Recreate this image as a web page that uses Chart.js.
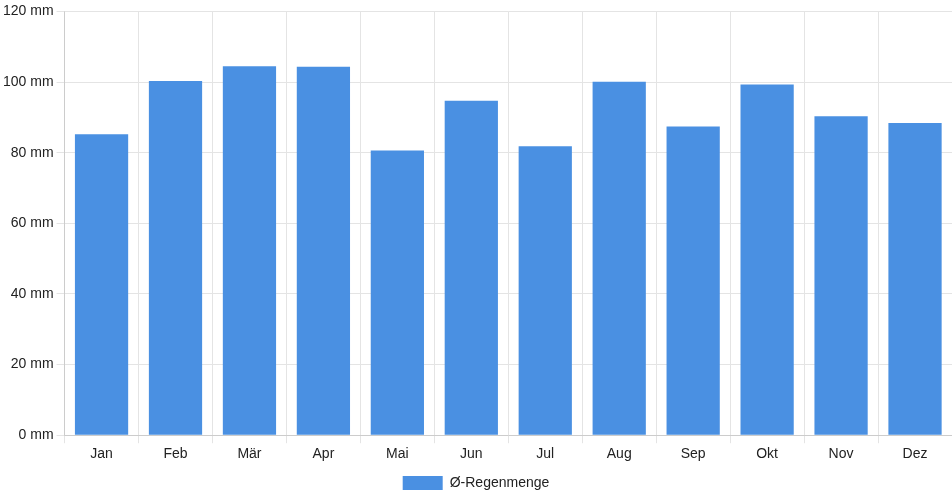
<!DOCTYPE html>
<html>
<head>
<meta charset="utf-8">
<script src="https://cdn.jsdelivr.net/npm/chart.js@4/dist/chart.umd.min.js"></script>
<style>
  html, body { margin: 0; padding: 0; background: #fff; }
  #wrap { width: 952px; height: 500px; }
</style>
</head>
<body>
<div id="wrap"><canvas id="rainChart"></canvas></div>
<script>
// Monatliche Regenmenge
const months = ["Jan", "Feb", "Mär", "Apr", "Mai", "Jun", "Jul", "Aug", "Sep", "Okt", "Nov", "Dez"];
const rainfall = [85.2, 100.3, 104.5, 104.3, 80.6, 94.7, 81.8, 100.1, 87.4, 99.3, 90.3, 88.4];
const yTicks = [0, 20, 40, 60, 80, 100, 120];

Chart.defaults.font.family = "'Liberation Sans', Arial, sans-serif";
Chart.defaults.font.size = 14;
Chart.defaults.color = "#222";

new Chart(document.getElementById("rainChart"), {
  type: "bar",
  data: {
    labels: months,
    datasets: [
      {
        label: "Ø-Regenmenge",
        data: rainfall,
        backgroundColor: "#4a90e2",
        borderColor: "#4a90e2",
        borderWidth: 0,
      },
    ],
  },
  options: {
    responsive: true,
    maintainAspectRatio: false,
    animation: false,
    layout: { padding: { top: 4, right: 0, bottom: 0, left: 0 } },
    plugins: {
      legend: {
        position: "bottom",
        labels: { boxWidth: 40, boxHeight: 14, color: "#222" },
      },
      tooltip: { enabled: false },
    },
    scales: {
      x: {
        grid: { color: "#e4e4e4" },
        ticks: { color: "#222" },
      },
      y: {
        min: 0,
        max: 120,
        afterBuildTicks: (axis) => {
          axis.ticks = yTicks.map((v) => ({ value: v }));
        },
        grid: { color: "#e4e4e4" },
        ticks: {
          color: "#222",
          callback: (v) => v + " mm",
        },
      },
    },
  },
});
</script>
</body>
</html>
